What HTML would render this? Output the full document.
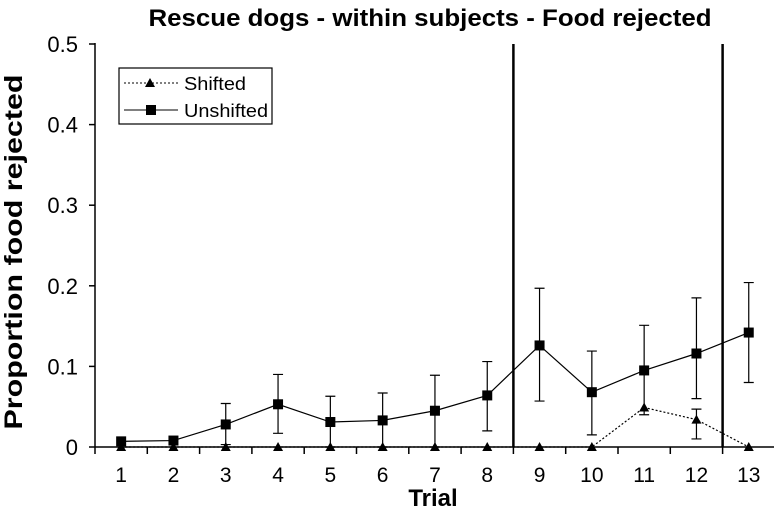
<!DOCTYPE html>
<html><head><meta charset="utf-8"><style>
body{margin:0;background:#fff;}
svg text{font-family:"Liberation Sans",Arial,sans-serif;}
</style></head><body>
<svg id="chart" width="774" height="515" xmlns="http://www.w3.org/2000/svg">
<text x="430" y="26" text-anchor="middle" font-size="24" font-weight="bold" textLength="563" lengthAdjust="spacingAndGlyphs">Rescue dogs - within subjects - Food rejected</text>
<text transform="translate(22,252) rotate(-90)" text-anchor="middle" font-size="25" font-weight="bold" textLength="355" lengthAdjust="spacingAndGlyphs">Proportion food rejected</text>
<text x="433" y="506" text-anchor="middle" font-size="24" font-weight="bold">Trial</text>
<g id="axes"></g><g id="marks"></g>
<g>
<rect x="119" y="68" width="153" height="56" fill="#fff" stroke="#000" stroke-width="1.2"/>
<line x1="124" y1="83" x2="178" y2="83" stroke="#000" stroke-dasharray="2,2"/>
<polygon points="150,78 155,87 145,87" fill="#000"/>
<text x="184" y="90" font-size="18" textLength="62" lengthAdjust="spacingAndGlyphs">Shifted</text>
<line x1="124" y1="110" x2="178" y2="110" stroke="#000"/>
<rect x="146" y="105" width="10" height="10" fill="#000"/>
<text x="184" y="117" font-size="18" textLength="84" lengthAdjust="spacingAndGlyphs">Unshifted</text>
</g>
</svg>
<script>
const trials=["1","2","3","4","5","6","7","8","9","10","11","12","13"];
const unshifted=[0.007,0.008,0.028,0.053,0.031,0.033,0.045,0.064,0.126,0.068,0.095,0.116,0.142];
const unshiftedHigh=[null,null,0.054,0.090,0.063,0.067,0.089,0.106,0.197,0.119,0.151,0.185,0.204];
const unshiftedLow=[null,null,0.003,0.017,0,0,0,0.020,0.057,0.015,0.040,0.060,0.080];
const shifted=[0,0,0,0,0,0,0,0,0,0,0.049,0.034,0];
const shiftedHigh=[null,null,null,null,null,null,null,null,null,null,null,0.047,null];
const shiftedLow=[null,null,null,null,null,null,null,null,null,null,null,0.010,null];
const yTicks=[0,0.1,0.2,0.3,0.4,0.5];
const yTickLabels=["0","0.1","0.2","0.3","0.4","0.5"];
const phaseBreaks=[8,12];
const NS="http://www.w3.org/2000/svg";
const L=95,BW=52.3,Y0=447,YS=806;
const xs=i=>L+BW*(i+0.5);
const ys=v=>Y0-v*YS;
const axes=document.getElementById('axes'),marks=document.getElementById('marks');
function mk(p,tag,at){const e=document.createElementNS(NS,tag);for(const k in at)e.setAttribute(k,at[k]);p.appendChild(e);return e;}
let e;
e=mk(axes,'line',{x1:L,y1:Y0,x2:L+BW*13,y2:Y0,stroke:'#000','stroke-width':1.5});


e=mk(axes,'line',{x1:L,y1:Y0,x2:L,y2:ys(0.5)-1,stroke:'#000','stroke-width':1.5});


yTicks.forEach((v,i)=>{
 e=mk(axes,'line',{x1:L-6,y1:ys(v),x2:L,y2:ys(v),stroke:'#000','stroke-width':1.5});
 
 
 e=mk(axes,'text',{x:L-17,y:ys(v)+8,'text-anchor':'end','font-size':22});
 e.textContent=yTickLabels[i];
 
 
});
for(let k=0;k<=13;k++){
 e=mk(axes,'line',{x1:L+BW*k,y1:Y0,x2:L+BW*k,y2:Y0+7,stroke:'#000','stroke-width':1.5});
 
 
}
trials.forEach((t,i)=>{
 e=mk(axes,'text',{x:xs(i),y:Y0+35,'text-anchor':'middle','font-size':21});
 e.textContent=t;
 
 
});
phaseBreaks.forEach(b=>{
 e=mk(axes,'line',{x1:L+BW*b,y1:Y0,x2:L+BW*b,y2:44,stroke:'#000','stroke-width':2.5});
 
 
});
function errs(hi,lo,name){
 hi.forEach((h,i)=>{
  if(h==null)return;
  const x=xs(i),a=ys(h),b=ys(lo[i]);
  e=mk(marks,'path',{d:`M${x},${a}V${b}M${x-5},${a}H${x+5}M${x-5},${b}H${x+5}`,stroke:'#000','stroke-width':1.2,fill:'none'});
  
  
 });
}
errs(unshiftedHigh,unshiftedLow,'unshifted-error-bar');
errs(shiftedHigh,shiftedLow,'shifted-error-bar');
e=mk(marks,'polyline',{points:shifted.map((v,i)=>xs(i)+','+ys(v)).join(' '),fill:'none',stroke:'#000','stroke-width':1.2,'stroke-dasharray':'2,2'});


e=mk(marks,'polyline',{points:unshifted.map((v,i)=>xs(i)+','+ys(v)).join(' '),fill:'none',stroke:'#000','stroke-width':1.2});


shifted.forEach((v,i)=>{
 const x=xs(i),y=ys(v);
 e=mk(marks,'polygon',{points:`${x},${y-5} ${x+5},${y+4} ${x-5},${y+4}`,fill:'#000'});
 
 
});
unshifted.forEach((v,i)=>{
 e=mk(marks,'rect',{x:xs(i)-5,y:ys(v)-5,width:10,height:10,fill:'#000'});
 
 
});
</script>
</body></html>
